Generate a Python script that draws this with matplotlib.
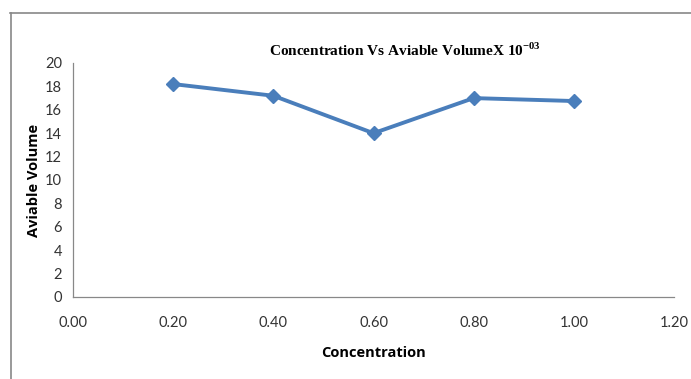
import matplotlib.pyplot as plt
from matplotlib.lines import Line2D

concentration = [0.2, 0.4, 0.6, 0.8, 1.0]
volume = [18.2, 17.2, 14.0, 17.0, 16.75]
x_ticks = [0.0, 0.2, 0.4, 0.6, 0.8, 1.0, 1.2]
y_ticks = list(range(0, 21, 2))

plt.rcParams["mathtext.fontset"] = "custom"
plt.rcParams["mathtext.rm"] = "Liberation Serif:bold"
plt.rcParams["mathtext.bf"] = "Liberation Serif:bold"

W, H = 691, 379
fig = plt.figure(figsize=(W / 100, H / 100), dpi=100)
ax = fig.add_axes([73 / W, 1 - 297 / H, (674 - 73) / W, (297 - 63) / H])

ax.plot(concentration, volume, color="#4a7ebb", lw=2.8, marker="D",
        markersize=7.5, markerfacecolor="#4a7ebb", markeredgecolor="#4a7ebb")

ax.set_xlim(0, 1.2)
ax.set_ylim(0, 20)
ax.set_xticks(x_ticks)
ax.set_xticklabels([f"{v:.2f}" for v in x_ticks])
ax.set_yticks(y_ticks)
ax.tick_params(length=0, labelsize=10.5, colors="#333333")
ax.tick_params(axis="x", pad=14)
ax.tick_params(axis="y", pad=8)
for lbl in ax.get_xticklabels() + ax.get_yticklabels():
    lbl.set_family("Lato")

for side in ("top", "right"):
    ax.spines[side].set_visible(False)
for side in ("left", "bottom"):
    ax.spines[side].set_color("#888888")
    ax.spines[side].set_linewidth(0.9)

ax.set_xlabel("Concentration", fontsize=10.5, fontweight="bold",
              family="Open Sans", labelpad=11)
ax.set_ylabel("Aviable Volume", fontsize=10.5, fontweight="bold",
              family="Open Sans", labelpad=3)

fig.text(405 / W, 1 - 50 / H, r"Concentration Vs Aviable VolumeX 10$^{\mathbf{-03}}$",
         ha="center", va="center", fontsize=11, fontweight="bold",
         family="Liberation Serif")

# outer border lines (top and left only)
fig.add_artist(Line2D([10 / W, 1], [1 - 13 / H, 1 - 13 / H], color="#888888", lw=1.2))
fig.add_artist(Line2D([11 / W, 11 / W], [0, 1 - 13 / H], color="#888888", lw=1.2))

fig.savefig("out.png", dpi=100)
